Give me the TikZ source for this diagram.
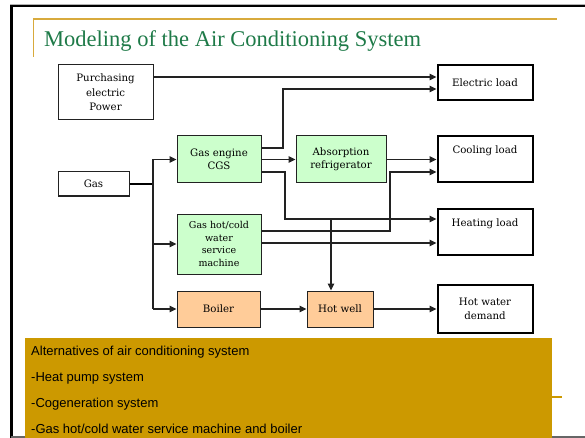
\documentclass[tikz,border=0pt]{standalone}
\usepackage{fontspec}
\setmainfont{Liberation Serif}
\newfontfamily\boxfont{DejaVu Serif}
\newfontfamily\armfont{Liberation Sans}
\usetikzlibrary{arrows.meta,calc}
\definecolor{titlegreen}{HTML}{1E7A48}
\definecolor{goldline}{HTML}{D8AA3C}
\definecolor{goldfill}{HTML}{CC9900}
\definecolor{greenfill}{HTML}{CCFFCC}
\definecolor{orangefill}{HTML}{FFCC99}
\definecolor{linegray}{HTML}{222222}
\tikzset{
  src/.style={draw=linegray, line width=1pt, fill=white, align=center, inner sep=0pt,
    font=\boxfont\fontsize{10.2}{14.5}\selectfont},
  proc/.style={draw=linegray, line width=1pt, align=center, inner sep=0pt,
    font=\boxfont\fontsize{10.2}{13.5}\selectfont},
  load/.style={draw=black, line width=2pt, align=center, inner sep=0pt,
    font=\boxfont\fontsize{10.2}{14}\selectfont},
  conn/.style={draw=linegray, line width=1.1pt},
  arr/.style={conn, -{Triangle[length=7pt,width=6.5pt]}},
  listtext/.style={anchor=base west, inner sep=0pt, font=\armfont\fontsize{13}{15}\selectfont}
}
\begin{document}
\begin{tikzpicture}[x=1pt,y=-1pt]
\useasboundingbox (0,0) rectangle (585,438);
% frame
\draw[gray!60, line width=1pt] (10,438) -- (10,4.5) -- (585,4.5);
\draw[black, line width=2.2pt] (11.5,438) -- (11.5,6) -- (585,6);
\draw[gray!80!black, line width=1.5pt] (11,437) -- (585,437);
% title decoration
\draw[goldline, line width=1.3pt] (33.5,57) -- (33.5,19) -- (557,19);
\node[anchor=base west, inner sep=0pt, text=titlegreen, font=\fontsize{22.5}{26}\selectfont] (title) at (44,47) {Modeling of the Air Conditioning System};

% nodes
\node[src, minimum width=95pt, minimum height=55pt] (purch) at (105.5,92.5) {Purchasing\\electric\\Power};
\node[src, minimum width=71pt, minimum height=24pt] (gas) at (93.5,184) {Gas};
\node[proc, fill=greenfill, minimum width=84pt, minimum height=47pt] (cgs) at (219,159.5) {Gas engine\\CGS};
\node[proc, fill=greenfill, minimum width=90pt, minimum height=47pt] (abs) at (341,159.5) {Absorption\\refrigerator};
\node[proc, fill=greenfill, minimum width=84pt, minimum height=60pt, font=\boxfont\fontsize{9.5}{12.7}\selectfont] (ghc) at (219,244) {Gas hot/cold\\water\\service\\machine};
\node[proc, fill=orangefill, minimum width=83pt, minimum height=36pt] (boiler) at (218.5,309) {Boiler};
\node[proc, fill=orangefill, minimum width=66pt, minimum height=36pt] (well) at (340,309) {Hot well};
\node[load, minimum width=95pt, minimum height=35pt] (elec) at (485,83) {Electric load};
\node[load, minimum width=95pt, minimum height=46pt, text height=7pt, text depth=18pt] (cool) at (485,159.5) {Cooling load};
\node[load, minimum width=95pt, minimum height=46pt, text height=7pt, text depth=18pt] (heat) at (485,231.5) {Heating load};
\node[load, minimum width=95pt, minimum height=48pt] (hotw) at (485,308.5) {Hot water\\demand};

% connectors
\draw[arr] ([yshift=15.5pt]purch.east) -- ([yshift=6pt]elec.west);
\draw[arr] ([yshift=11.5pt]cgs.east) -| (283,89) -- ([yshift=-6pt]elec.west);
\draw[arr] (cgs.east) -- (abs.west);
\coordinate (hj) at (331,219);
\draw[arr] ([yshift=-12.5pt]cgs.east) -| (285,219) -- ([yshift=12.5pt]heat.west);
\draw[arr] (abs.east) -- (cool.west);
\draw[arr] ([yshift=13pt]ghc.east) -| (390,172) -- ([yshift=-12.5pt]cool.west);
\draw[arr] ([yshift=1pt]ghc.east) -- ([yshift=-11.5pt]heat.west);
\draw[draw=black, line width=2pt] (gas.east) -- (153,184);
\draw[conn] (153,159.5) -- (153,309);
\draw[arr] (153,159.5) -- (cgs.west);
\draw[arr] (153,244) -- (ghc.west);
\draw[arr] (153,309) -- (boiler.west);
\draw[arr] (hj) -- ([xshift=-9pt]well.north);
\draw[arr] (boiler.east) -- (well.west);
\draw[arr] (well.east) -- (hotw.west |- well.east);

% alternatives box
\fill[goldfill] (25,338) rectangle (552,438);
\draw[goldfill, line width=2pt] (552,397) -- (562,397);
\node[listtext] (l1) at (31,355) {Alternatives of air conditioning system};
\node[listtext] (l2) at (31,381) {-Heat pump system};
\node[listtext] (l3) at (31,407) {-Cogeneration system};
\node[listtext] (l4) at (31,433) {-Gas hot/cold water service machine and boiler};
\end{tikzpicture}
\end{document}
